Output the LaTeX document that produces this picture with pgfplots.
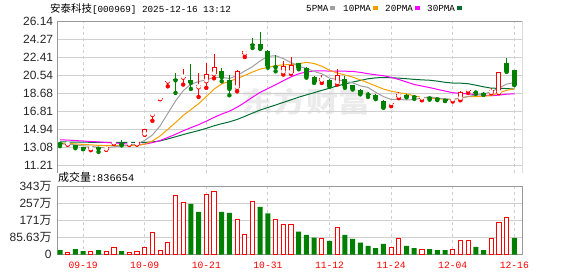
\documentclass[border=0pt]{standalone}
\usepackage{fontspec}
\setmainfont{Liberation Sans}
\newfontfamily\cjk{Noto Sans CJK SC}
\newfontfamily\mono{Liberation Mono}
\usepackage{pgfplots}
\pgfplotsset{compat=1.18}
\usepackage{pgfplotstable}
\definecolor{kred}{HTML}{FF0000}
\definecolor{kgreen}{HTML}{008000}
\definecolor{ma5}{HTML}{A0A0A0}
\definecolor{ma10}{HTML}{F5A000}
\definecolor{ma20}{HTML}{FF00FF}
\definecolor{ma30}{HTML}{006E32}
\definecolor{framec}{HTML}{999999}
\definecolor{gridc}{HTML}{D0D0D0}

% candles with close >= open (red, hollow)
\pgfplotstableread{
x o h l c
1 13.38 13.42 13.38 13.42
4 12.90 13.15 12.80 13.10
6 12.85 13.20 12.85 13.18
7 13.50 13.84 13.45 13.60
9 13.38 13.50 13.35 13.45
10 13.40 13.65 13.38 13.63
11 14.43 15.00 14.40 14.98
12 16.45 16.45 15.85 16.45
13 18.10 18.10 18.10 18.10
14 19.92 19.92 19.43 19.92
16 20.33 21.24 19.61 20.40
18 19.32 20.82 18.33 19.52
19 19.95 21.86 19.27 20.72
20 20.68 22.82 20.26 21.44
23 19.27 21.10 18.91 21.06
24 22.82 23.12 22.48 23.10
29 20.88 22.02 20.65 21.58
30 20.82 22.48 20.72 21.68
34 20.02 20.65 19.78 20.30
36 19.78 21.24 19.61 20.65
43 17.60 17.88 17.36 17.66
44 18.35 18.80 18.20 18.65
47 18.15 18.40 17.98 18.20
51 17.98 18.15 17.85 18.02
52 18.13 18.90 17.98 18.81
53 19.00 19.27 18.75 19.05
56 18.75 19.30 18.70 19.02
57 18.75 20.95 18.72 20.92
}\redc

% candles with close < open (green, filled)
\pgfplotstableread{
x o h l c
0 13.48 13.50 13.22 13.45
2 13.35 13.38 13.00 13.10
3 13.10 13.12 12.90 12.92
5 13.15 13.15 12.62 12.95
8 13.45 13.84 13.30 13.38
15 20.12 20.82 18.75 20.05
17 20.06 21.79 19.16 19.78
21 21.06 21.35 19.95 20.37
22 20.05 20.62 18.50 19.15
25 23.83 24.45 23.41 23.68
26 23.86 25.07 23.34 23.34
27 23.10 23.20 21.37 21.50
28 21.51 22.65 20.99 21.41
31 21.82 21.90 21.20 21.34
32 21.30 21.40 20.33 20.47
33 20.37 20.47 19.78 19.85
35 20.13 20.20 19.40 19.43
37 20.20 20.47 19.27 19.43
38 19.54 19.60 19.10 19.19
39 19.09 19.16 18.60 18.68
40 18.62 18.85 18.33 18.58
41 18.57 18.60 18.10 18.16
42 17.95 17.98 17.20 17.26
45 18.58 18.65 18.28 18.36
46 18.35 18.57 18.13 18.30
48 18.21 18.47 18.05 18.17
49 18.15 18.20 18.00 18.08
50 18.12 18.15 17.90 17.94
54 18.83 18.99 18.64 18.79
55 18.75 18.80 18.55 18.57
58 21.86 22.38 20.93 20.99
59 21.09 21.12 19.55 19.61
}\greenc

% moving averages
\pgfplotstableread{
x m5 m10 m20 m30
0 13.45 13.52 13.87 13.65
1 13.42 13.50 13.85 13.65
2 13.35 13.45 13.80 13.64
3 13.25 13.40 13.75 13.63
4 13.20 13.35 13.70 13.62
5 13.10 13.30 13.66 13.61
6 13.05 13.27 13.60 13.60
7 13.15 13.27 13.55 13.60
8 13.24 13.26 13.50 13.60
9 13.31 13.26 13.42 13.60
10 13.45 13.27 13.38 13.60
11 13.81 13.43 13.43 13.61
12 14.38 13.76 13.58 13.66
13 15.32 14.28 13.80 13.76
14 16.62 14.96 14.12 13.97
15 17.90 15.67 14.45 14.19
16 18.98 16.40 14.81 14.42
17 19.65 17.01 15.14 14.63
18 19.93 17.63 15.45 14.83
19 20.09 18.36 15.81 15.07
20 20.37 19.14 16.20 15.33
21 20.37 19.68 16.55 15.55
22 20.24 19.95 16.85 15.74
23 20.55 20.24 17.26 15.99
24 21.02 20.56 17.76 16.31
25 21.47 20.92 18.30 16.65
26 22.07 21.22 18.81 16.97
27 22.54 21.39 19.20 17.23
28 22.61 21.58 19.60 17.49
29 22.30 21.66 20.01 17.76
30 21.90 21.69 20.41 18.03
31 21.50 21.78 20.73 18.30
32 21.30 21.92 20.93 18.54
33 20.98 21.80 21.02 18.77
34 20.73 21.52 21.04 19.01
35 20.28 21.09 21.01 19.23
36 20.14 20.82 21.02 19.48
37 19.93 20.61 21.00 19.67
38 19.80 20.39 20.98 19.87
39 19.48 20.10 20.88 20.04
40 19.31 19.79 20.74 20.21
41 18.81 19.47 20.63 20.31
42 18.37 19.15 20.53 20.34
43 18.07 18.93 20.36 20.32
44 18.06 18.77 20.14 20.28
45 18.02 18.66 19.88 20.22
46 18.05 18.43 19.62 20.15
47 18.23 18.30 19.46 20.10
48 18.34 18.20 19.30 20.06
49 18.22 18.14 19.12 19.97
50 18.14 18.08 18.94 19.85
51 18.08 18.06 18.77 19.77
52 18.20 18.22 18.69 19.76
53 18.38 18.36 18.65 19.70
54 18.52 18.37 18.57 19.55
55 18.65 18.39 18.53 19.38
56 18.85 18.47 18.45 19.24
57 19.27 18.74 18.52 19.22
58 19.66 19.02 18.61 19.20
59 19.82 19.17 18.66 19.14
}\mas

% volume (10k shares), red days
\pgfplotstableread{
x v
1 13.4
4 18.4
6 18.4
7 36.8
9 13.4
10 18.4
11 36.8
12 108.7
13 23.4
14 63.5
15 294.0
16 262.5
19 302.6
20 317.7
23 173.9
24 98.6
25 267.5
28 174.0
29 148.8
30 148.8
34 81.9
36 137.1
43 36.8
44 81.9
47 26.8
51 26.8
52 71.9
53 68.6
56 81.9
57 162.2
58 187.3
}\volr

% volume, green days
\pgfplotstableread{
x v
0 23.4
2 28.4
3 18.4
5 23.4
8 18.4
17 254.0
18 214.0
21 214.0
22 209.0
26 239.0
27 205.7
31 115.4
32 98.6
33 85.3
35 68.6
37 98.6
38 78.6
39 60.2
40 43.5
41 33.4
42 53.5
45 43.5
46 33.4
48 28.4
49 23.4
50 23.4
54 38.5
55 23.4
59 83.67
}\volg

\pgfplotsset{kpanel/.style={
  scale only axis, width=465.3bp, xmin=-0.39, xmax=60.04,
  major tick length=0pt,
  xtick={3,11,19,27,35,43,51,59},
  xmajorgrids, ymajorgrids,
  x grid style={gridc, dash pattern=on 3bp off 3bp, line width=0.9bp},
  y grid style={gridc, line width=0.9bp},
  yticklabel style={font=\fontsize{12}{14}\selectfont, inner sep=0pt, text=black!85},
}}

\begin{document}
\begin{tikzpicture}[x=1bp,y=1bp]
\useasboundingbox (0,0) rectangle (578,276);

% watermark
\node[text=black!8, font=\cjk\bfseries\fontsize{28}{28}\selectfont, xscale=1.15] at (306,174.5) {东方财富};

% title and legend
\node[anchor=west, inner sep=0pt] at (50,267.3) {{\cjk\fontsize{10.5}{12}\selectfont 安泰科技}{\mono\fontsize{9.3}{11}\selectfont[000969] 2025-12-16 13:12}};
\node[anchor=west, inner sep=0pt] at (306,268) {\mono\fontsize{9.3}{11}\selectfont 5PMA};
\fill[ma5] (330,266) rectangle (335,270);
\node[anchor=west, inner sep=0pt] at (343,268) {\mono\fontsize{9.3}{11}\selectfont 10PMA};
\fill[ma10] (373,266) rectangle (378,270);
\node[anchor=west, inner sep=0pt] at (385,268) {\mono\fontsize{9.3}{11}\selectfont 20PMA};
\fill[ma20] (415,266) rectangle (420,270);
\node[anchor=west, inner sep=0pt] at (427,268) {\mono\fontsize{9.3}{11}\selectfont 30PMA};
\fill[ma30] (457,266) rectangle (462,270);

% price panel
\begin{axis}[kpanel, at={(57bp,103bp)}, anchor=south west, height=151.3bp,
  ymin=10.43, ymax=26.14, axis line style={draw=none},
  ytick={11.21,13.07625,14.9425,16.80875,18.675,20.54125,22.4075,24.27375,26.14},
  yticklabels={11.21,13.08,14.94,16.81,18.68,20.54,22.41,24.27,26.14},
  xticklabels={,,,,,,,}, yticklabel style={xshift=-3.7bp}]
\addplot [ma30, line width=1bp, mark=none] table [x=x, y=m30] {\mas};
\addplot [ma20, line width=1bp, mark=none] table [x=x, y=m20] {\mas};
\addplot [ma10, line width=1bp, mark=none] table [x=x, y=m10] {\mas};
\addplot [ma5, line width=1bp, mark=none] table [x=x, y=m5] {\mas};
% green candles
\addplot [kgreen, only marks, mark=none, error bars/.cd, y dir=plus, y explicit, error mark=none,
  error bar style={color=kgreen, line width=1bp}]
  table [x=x, y=l, y error plus expr={\thisrow{h}-\thisrow{l}}] {\greenc};
\addplot [kgreen, only marks, mark=none, error bars/.cd, y dir=plus, y explicit, error mark=none,
  error bar style={color=kgreen, line width=5bp}]
  table [x=x, y=c, y error plus expr={max(\thisrow{o}-\thisrow{c},0.1)}] {\greenc};
% red candles
\addplot [kred, only marks, mark=none, error bars/.cd, y dir=plus, y explicit, error mark=none,
  error bar style={color=kred, line width=1bp}]
  table [x=x, y=l, y error plus expr={\thisrow{h}-\thisrow{l}}] {\redc};
\addplot [kred, only marks, mark=none, error bars/.cd, y dir=plus, y explicit, error mark=none,
  error bar style={color=kred, line width=5bp}]
  table [x=x, y=o, y error plus expr={max(\thisrow{c}-\thisrow{o},0.1)}] {\redc};
\addplot [white, only marks, mark=none, error bars/.cd, y dir=plus, y explicit, error mark=none,
  error bar style={color=white, line width=3bp}]
  table [x=x, y expr={\thisrow{o}+0.11}, y error plus expr={max(\thisrow{c}-\thisrow{o}-0.22,0)}] {\redc};
\draw[framec, line width=1bp] (rel axis cs:0,0) -- (rel axis cs:0,1) -- (rel axis cs:1,1) -- (rel axis cs:1,0);
\end{axis}

% volume label
\node[anchor=west, inner sep=0pt] at (58,98.8) {{\cjk\fontsize{11}{12}\selectfont 成交量}{\mono\fontsize{10.3}{12}\selectfont :836654}};

% volume panel
\begin{axis}[kpanel, at={(57bp,21.3bp)}, anchor=south west, height=68.7bp,
  ymin=0, ymax=342.52, axis line style={framec, line width=1bp},
  ytick={0,85.63,171.26,256.89,342.52},
  yticklabels={0,85.63{\cjk 万},171{\cjk 万},257{\cjk 万},343{\cjk 万}},
  xticklabels={09-19,10-09,10-21,10-31,11-12,11-24,12-04,12-16},
  xticklabel style={font=\mono\fontsize{9.7}{11}\selectfont, text=kred, anchor=north, inner sep=0pt, yshift=-7bp},
  yticklabel style={xshift=-5.3bp}]
\addplot [ybar, bar width=4.2bp, bar shift=0pt, draw=kred, fill=white, line width=0.9bp] table [x=x, y=v] {\volr};
\addplot [ybar, bar width=5bp, bar shift=0pt, draw=none, fill=kgreen] table [x=x, y=v] {\volg};
\end{axis}
\end{tikzpicture}
\end{document}
